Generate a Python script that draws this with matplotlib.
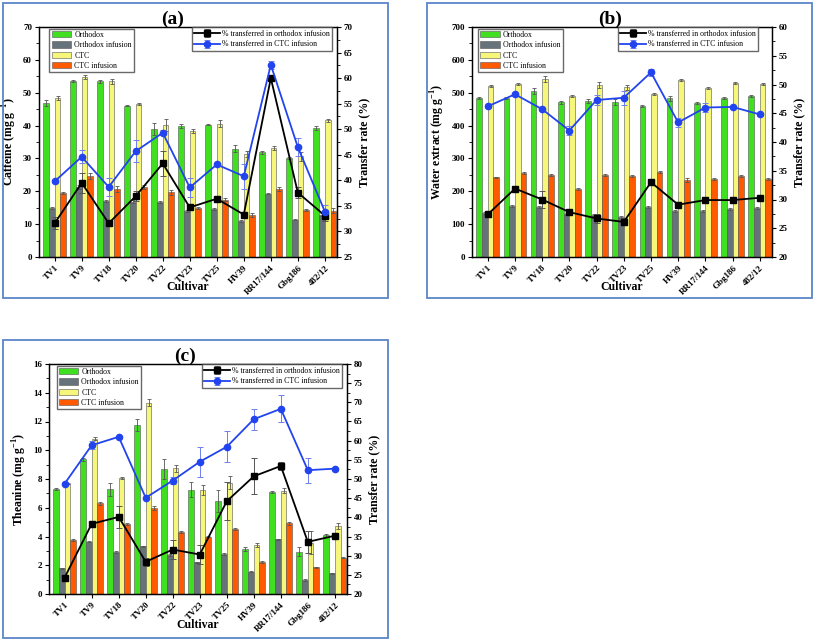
import matplotlib.pyplot as plt
import matplotlib.patches as mpatches
from matplotlib.ticker import MultipleLocator
import numpy as np

plt.rcParams['font.family'] = ['Liberation Serif', 'DejaVu Serif']
plt.rcParams['mathtext.fontset'] = 'custom'
plt.rcParams['mathtext.rm'] = 'Liberation Serif:bold'
plt.rcParams['mathtext.bf'] = 'Liberation Serif:bold'

cultivars = ["TV1", "TV9", "TV18", "TV20", "TV22", "TV23", "TV25", "HV39",
             "RR17/144", "Gbg186", "482/12"]
bar_names = ["Orthodox", "Orthodox infusion", "CTC", "CTC infusion"]
line_names = ["% transferred in orthodox infusion", "% transferred in CTC infusion"]

# (a) caffeine, mg/g
caf_orth = [46.9, 53.5, 53.5, 46.1, 39.0, 39.9, 40.3, 33.0, 31.9, 30.1, 39.3]
caf_orth_inf = [14.9, 21.3, 16.9, 16.8, 16.8, 13.9, 14.7, 11.1, 19.3, 11.4, 12.9]
caf_ctc = [48.4, 54.8, 53.5, 46.7, 40.3, 38.3, 40.6, 31.3, 33.2, 30.6, 41.6]
caf_ctc_inf = [19.5, 24.6, 20.7, 21.3, 19.7, 14.9, 17.4, 12.8, 20.7, 14.4, 14.1]
caf_orth_err = [0.8, 0.3, 0.5, 0.2, 1.8, 0.6, 0.2, 1.0, 0.4, 0.2, 0.6]
caf_orth_inf_err = [0.3, 0.6, 0.3, 0.5, 0.3, 0.3, 0.3, 0.3, 0.2, 0.2, 0.5]
caf_ctc_err = [0.5, 0.7, 0.8, 0.3, 1.8, 0.6, 1.0, 1.0, 0.6, 1.5, 0.5]
caf_ctc_inf_err = [0.3, 1.0, 1.0, 0.7, 0.7, 0.3, 0.5, 0.5, 0.5, 0.3, 0.7]
caf_rate_orth = [31.6, 39.5, 31.6, 36.9, 43.3, 34.7, 36.4, 33.3, 60.0, 37.6, 33.1]
caf_rate_ctc = [39.8, 44.6, 38.7, 45.7, 49.3, 38.6, 43.1, 40.8, 62.6, 46.5, 33.9]
caf_rate_orth_err = [1.2, 2.0, 0.3, 1.0, 2.5, 0.5, 0.6, 0.3, 0.5, 1.0, 1.0]
caf_rate_ctc_err = [0.3, 1.3, 1.7, 2.2, 0.5, 1.8, 0.3, 2.4, 0.8, 1.8, 1.2]

# (b) water extract, mg/g
wat_orth = [483, 483, 505, 471, 475, 472, 459, 483, 469, 484, 490]
wat_orth_inf = [134, 154, 152, 132, 127, 123, 152, 141, 141, 145, 148]
wat_ctc = [521, 527, 542, 491, 523, 516, 497, 540, 513, 531, 527]
wat_ctc_inf = [242, 255, 250, 207, 250, 248, 260, 234, 236, 246, 236]
wat_orth_err = [3, 3, 8, 4, 6, 10, 3, 8, 4, 3, 4]
wat_orth_inf_err = [3, 3, 4, 3, 3, 3, 3, 3, 3, 3, 3]
wat_ctc_err = [3, 3, 10, 3, 10, 8, 3, 3, 3, 3, 3]
wat_ctc_inf_err = [3, 3, 3, 3, 3, 3, 3, 5, 3, 3, 3]
wat_rate_orth = [27.4, 31.9, 30.0, 27.8, 26.7, 26.1, 33.0, 29.1, 29.9, 29.9, 30.3]
wat_rate_ctc = [46.2, 48.3, 45.7, 42.0, 47.3, 47.7, 52.1, 43.4, 46.0, 46.1, 44.8]
wat_rate_orth_err = [0.5, 0.4, 1.5, 0.4, 0.8, 0.6, 0.4, 0.3, 0.4, 0.3, 0.3]
wat_rate_ctc_err = [0.2, 0.3, 0.2, 0.8, 0.9, 1.2, 0.6, 0.8, 0.8, 0.2, 0.2]

# (c) theanine, mg/g
thea_orth = [7.3, 9.37, 7.3, 11.74, 8.68, 7.26, 6.47, 3.11, 7.1, 2.95, 4.1]
thea_orth_inf = [1.79, 3.64, 2.92, 3.32, 2.71, 2.2, 2.78, 1.55, 3.8, 0.97, 1.44]
thea_ctc = [7.68, 10.8, 8.07, 13.3, 8.75, 7.24, 7.75, 3.39, 7.2, 3.57, 4.71]
thea_ctc_inf = [3.76, 6.31, 4.87, 6.0, 4.32, 3.99, 4.52, 2.23, 4.92, 1.86, 2.53]
thea_orth_err = [0.05, 0.1, 0.45, 0.4, 0.7, 0.5, 0.75, 0.15, 0.1, 0.3, 0.1]
thea_orth_inf_err = [0.05, 0.05, 0.05, 0.05, 0.1, 0.05, 0.05, 0.05, 0.05, 0.05, 0.05]
thea_ctc_err = [0.05, 0.1, 0.05, 0.25, 0.25, 0.35, 0.45, 0.15, 0.2, 0.8, 0.2]
thea_ctc_inf_err = [0.05, 0.1, 0.05, 0.15, 0.05, 0.05, 0.05, 0.05, 0.1, 0.05, 0.05]
thea_rate_orth = [24.3, 38.3, 40.1, 28.4, 31.6, 30.3, 44.2, 50.7, 53.4, 33.6, 35.2]
thea_rate_ctc = [48.8, 58.8, 61.0, 45.1, 49.6, 54.5, 58.4, 65.6, 68.3, 52.3, 52.7]
thea_rate_orth_err = [0.5, 0.5, 2.9, 1.0, 2.5, 2.5, 5.0, 4.7, 1.1, 2.8, 0.3]
thea_rate_ctc_err = [0.3, 1.0, 0.3, 0.3, 0.8, 3.9, 4.0, 2.7, 3.5, 3.3, 0.2]

bar_colors = ['#40e020', '#67737b', '#f6f67a', '#ff5a00']
line_colors = ['black', '#2244ee']
border_color = '#5a86c8'

W, H = 815, 641
fig = plt.figure(figsize=(W / 100, H / 100), dpi=100)


def px_rect(x0, y0, x1, y1):
    return [x0 / W, 1 - y1 / H, (x1 - x0) / W, (y1 - y0) / H]


def panel(ax_box, border, title, title_xy, bars, bar_errs, rates, rate_errs,
          ylim, ystep, rlim, ylabel, bar_leg_x, line_leg_x, xlab_y):
    # blue frame round each panel
    fig.patches.append(mpatches.Rectangle(
        (border[0] / W, 1 - border[3] / H), (border[2] - border[0]) / W,
        (border[3] - border[1]) / H, transform=fig.transFigure,
        fill=False, edgecolor=border_color, lw=1.3))

    ax = fig.add_axes(px_rect(*ax_box))
    x = np.arange(len(cultivars))
    w = 0.21
    handles = []
    for i, (vals, errs) in enumerate(zip(bars, bar_errs)):
        b = ax.bar(x + (i - 1.5) * w, vals, w, yerr=errs, color=bar_colors[i],
                   edgecolor='#555555', linewidth=0.4, label=bar_names[i],
                   error_kw=dict(ecolor='#555555', elinewidth=0.6, capsize=1.5,
                                 capthick=0.6))
        handles.append(b)
    ax.set_xlim(-0.58, len(cultivars) - 0.55)
    ax.set_ylim(*ylim)
    ax.yaxis.set_major_locator(MultipleLocator(ystep))
    ax.yaxis.set_minor_locator(MultipleLocator(ystep / 2))
    ax.set_xticks(x)
    ax.set_xticklabels(cultivars, rotation=45, ha='right', rotation_mode='anchor',
                       fontweight='bold', fontsize=5.9)
    ax.tick_params(axis='both', direction='out', length=3, width=0.8, labelsize=6.5,
                   pad=2)
    ax.tick_params(axis='y', which='minor', direction='out', length=2, width=0.6)
    for lab in ax.get_yticklabels():
        lab.set_fontweight('bold')
    ax.set_ylabel(ylabel, fontweight='bold', fontsize=8.5, labelpad=3)
    ax.set_xlabel("Cultivar", fontweight='bold', fontsize=8.5)
    ax.xaxis.set_label_coords(0.5, xlab_y)
    ax.legend(handles=handles, loc='upper left', bbox_to_anchor=(bar_leg_x, 1.0),
              fontsize=5.6, frameon=True, fancybox=False, edgecolor='#444444',
              handlelength=2.5, handleheight=0.9, labelspacing=0.3,
              borderpad=0.3, handletextpad=0.4, borderaxespad=0.2)

    ax2 = ax.twinx()
    markers = ['s', 'o']
    lh = []
    for i, (vals, errs) in enumerate(zip(rates, rate_errs)):
        ecol = '#555555' if i == 0 else '#6f80ee'
        l = ax2.errorbar(x, vals, yerr=errs, color=line_colors[i], marker=markers[i],
                         markersize=4.5, lw=1.3, ecolor=ecol, elinewidth=0.7,
                         capsize=2, capthick=0.7, label=line_names[i])
        lh.append(l)
    ax2.set_ylim(*rlim)
    ax2.yaxis.set_major_locator(MultipleLocator(5))
    ax2.yaxis.set_minor_locator(MultipleLocator(2.5))
    ax2.tick_params(axis='y', direction='out', length=3, width=0.8, labelsize=6.5,
                    pad=2)
    ax2.tick_params(axis='y', which='minor', direction='out', length=2, width=0.6)
    for lab in ax2.get_yticklabels():
        lab.set_fontweight('bold')
    ax2.set_ylabel("Transfer rate (%)", fontweight='bold', fontsize=8.5,
                   rotation=90, labelpad=4)
    ax2.legend(handles=lh, loc='upper right', bbox_to_anchor=(line_leg_x, 1.005),
               fontsize=5.6, frameon=True, fancybox=False, edgecolor='#444444',
               handlelength=3.3, labelspacing=0.35, borderpad=0.3,
               handletextpad=0.3, borderaxespad=0.2)
    for a in (ax, ax2):
        for s in a.spines.values():
            s.set_linewidth(0.9)

    fig.text(title_xy[0] / W, 1 - title_xy[1] / H, title, ha='center', va='center',
             fontsize=14, fontweight='bold')


panel((39, 27, 337, 257), (3, 3, 388, 298), "(a)", (173, 19),
      [caf_orth, caf_orth_inf, caf_ctc, caf_ctc_inf],
      [caf_orth_err, caf_orth_inf_err, caf_ctc_err, caf_ctc_inf_err],
      [caf_rate_orth, caf_rate_ctc], [caf_rate_orth_err, caf_rate_ctc_err],
      (0, 70), 10, (25, 70), "Caffeine (mg g$^{-1}$)", 0.03, 0.99, -0.105)

panel((472, 27, 772, 257), (427, 3, 812, 298), "(b)", (610, 19),
      [wat_orth, wat_orth_inf, wat_ctc, wat_ctc_inf],
      [wat_orth_err, wat_orth_inf_err, wat_ctc_err, wat_ctc_inf_err],
      [wat_rate_orth, wat_rate_ctc], [wat_rate_orth_err, wat_rate_ctc_err],
      (0, 700), 100, (20, 60), "Water extract (mg g$^{-1}$)", 0.015, 0.96, -0.105)

panel((49, 364, 347, 594), (3, 340, 388, 638), "(c)", (185, 356),
      [thea_orth, thea_orth_inf, thea_ctc, thea_ctc_inf],
      [thea_orth_err, thea_orth_inf_err, thea_ctc_err, thea_ctc_inf_err],
      [thea_rate_orth, thea_rate_ctc], [thea_rate_orth_err, thea_rate_ctc_err],
      (0, 16), 2, (20, 80), "Theanine (mg g$^{-1}$)", 0.02, 0.99, -0.11)

fig.savefig("out.png", dpi=100)
